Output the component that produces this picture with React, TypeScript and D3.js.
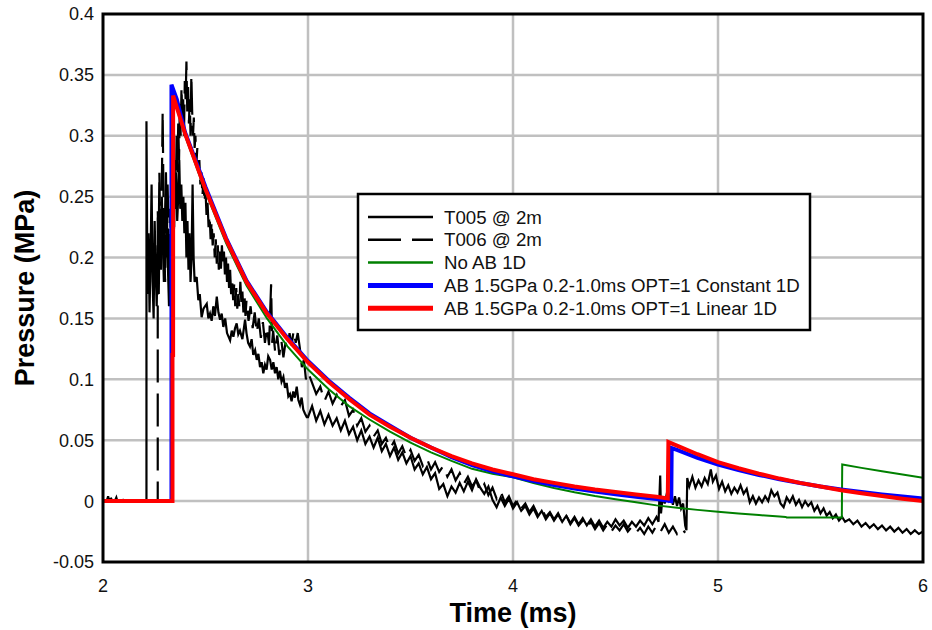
import React from 'react';
import * as d3 from 'd3';

type P = [number, number];

const xTicks = [2, 3, 4, 5, 6];
const yTicks = [-0.05, 0, 0.05, 0.1, 0.15, 0.2, 0.25, 0.3, 0.35, 0.4];
const yTickLabels = ['-0.05', '0', '0.05', '0.1', '0.15', '0.2', '0.25', '0.3', '0.35', '0.4'];
const xTitle = 'Time (ms)';
const yTitle = 'Pressure (MPa)';
const legendLabels = [
  'T005 @ 2m',
  'T006 @ 2m',
  'No AB 1D',
  'AB 1.5GPa 0.2-1.0ms OPT=1 Constant 1D',
  'AB 1.5GPa 0.2-1.0ms OPT=1 Linear 1D',
];

// Measured trace T005 (solid)
const t005: P[] = [
  [2.0, 0], [2.02, 0.001], [2.025, 0.004], [2.03, 0], [2.06, 0.001], [2.065, 0.003], [2.07, 0], [2.15, 0], [2.212, 0],
  [2.212, 0.312], [2.217, 0.17], [2.222, 0.22], [2.227, 0.155], [2.232, 0.2], [2.237, 0.26], [2.242, 0.18], [2.247, 0.15],
  [2.252, 0.23], [2.257, 0.19], [2.262, 0.16], [2.267, 0.21], [2.272, 0.17], [2.277, 0.24], [2.282, 0.2], [2.287, 0.25],
  [2.292, 0.21], [2.297, 0.18], [2.302, 0.23], [2.307, 0.27], [2.312, 0.22], [2.317, 0.19], [2.322, 0.16], [2.327, 0.21],
  [2.332, 0.18], [2.337, 0.23], [2.342, 0.2], [2.347, 0.26], [2.352, 0.24], [2.357, 0.27], [2.362, 0.23], [2.367, 0.25],
  [2.372, 0.28], [2.377, 0.24], [2.382, 0.26], [2.387, 0.23], [2.392, 0.25], [2.397, 0.22], [2.402, 0.245], [2.407, 0.2],
  [2.412, 0.23], [2.417, 0.19], [2.422, 0.22], [2.427, 0.18], [2.432, 0.2], [2.437, 0.26], [2.442, 0.2], [2.447, 0.18],
  [2.457, 0.184], [2.465, 0.165], [2.472, 0.17], [2.481, 0.151], [2.49, 0.158], [2.506, 0.162], [2.514, 0.15],
  [2.522, 0.154], [2.53, 0.148], [2.538, 0.16], [2.546, 0.152], [2.555, 0.168], [2.563, 0.155], [2.571, 0.149],
  [2.579, 0.154], [2.587, 0.143], [2.596, 0.15], [2.605, 0.138], [2.62, 0.132], [2.628, 0.14], [2.636, 0.135],
  [2.644, 0.142], [2.652, 0.146], [2.66, 0.137], [2.668, 0.14], [2.68, 0.133], [2.693, 0.149], [2.7, 0.138],
  [2.708, 0.13], [2.717, 0.127], [2.725, 0.133], [2.733, 0.12], [2.742, 0.124], [2.75, 0.116], [2.758, 0.121],
  [2.766, 0.11], [2.774, 0.114], [2.782, 0.105], [2.79, 0.112], [2.798, 0.108], [2.806, 0.119], [2.815, 0.116],
  [2.823, 0.108], [2.831, 0.114], [2.839, 0.105], [2.847, 0.11], [2.855, 0.1], [2.863, 0.107], [2.871, 0.098],
  [2.88, 0.102], [2.888, 0.093], [2.896, 0.097], [2.904, 0.086], [2.912, 0.088], [2.92, 0.082], [2.928, 0.09],
  [2.936, 0.085], [2.945, 0.094], [2.953, 0.083], [2.961, 0.079], [2.969, 0.085], [2.977, 0.075], [2.985, 0.072],
  [2.994, 0.069],
  [3.0, 0.069], [3.02, 0.078], [3.04, 0.066], [3.06, 0.074], [3.08, 0.063], [3.1, 0.071], [3.12, 0.062], [3.14, 0.068],
  [3.16, 0.058], [3.18, 0.066], [3.2, 0.055], [3.22, 0.061], [3.24, 0.05], [3.26, 0.058], [3.28, 0.047], [3.3, 0.053],
  [3.32, 0.044], [3.34, 0.052], [3.36, 0.041], [3.38, 0.047], [3.4, 0.037], [3.42, 0.044], [3.44, 0.034], [3.46, 0.04],
  [3.48, 0.031], [3.5, 0.037], [3.52, 0.026], [3.54, 0.031], [3.56, 0.022], [3.58, 0.028], [3.6, 0.018], [3.62, 0.023],
  [3.64, 0.01], [3.66, 0.014], [3.68, 0.004], [3.7, 0.012], [3.72, 0.007], [3.74, 0.015], [3.76, 0.008], [3.78, 0.016],
  [3.8, 0.009], [3.82, 0.018], [3.84, 0.011], [3.86, 0.006], [3.88, 0.012], [3.9, 0.001], [3.92, -0.005], [3.94, 0.003],
  [3.96, -0.004], [3.98, 0.002], [4.0, -0.006], [4.02, -0.001], [4.04, -0.008], [4.06, -0.004], [4.08, -0.011],
  [4.1, -0.006], [4.12, -0.013], [4.14, -0.008], [4.16, -0.015], [4.18, -0.01], [4.2, -0.016], [4.22, -0.011],
  [4.24, -0.017], [4.26, -0.012], [4.28, -0.018], [4.3, -0.013], [4.32, -0.019], [4.34, -0.014], [4.36, -0.02],
  [4.38, -0.015], [4.4, -0.021], [4.42, -0.016], [4.44, -0.022], [4.46, -0.017], [4.48, -0.021], [4.5, -0.015],
  [4.52, -0.02], [4.54, -0.016], [4.56, -0.022], [4.58, -0.017], [4.6, -0.021], [4.62, -0.016], [4.64, -0.02],
  [4.66, -0.014], [4.68, -0.019], [4.7, -0.013], [4.71, -0.017], [4.718, 0.021], [4.722, -0.01], [4.73, 0.004],
  [4.74, -0.002], [4.75, 0.006], [4.76, 0.001], [4.77, 0.007], [4.78, -0.003], [4.79, 0.004], [4.8, -0.004],
  [4.81, 0.003], [4.82, -0.006], [4.83, -0.002], [4.84, -0.02], [4.846, -0.024], [4.85, 0.019], [4.86, 0.012],
  [4.875, 0.02], [4.89, 0.011], [4.905, 0.017], [4.92, 0.012], [4.935, 0.019], [4.95, 0.014], [4.965, 0.026],
  [4.975, 0.016], [4.99, 0.021], [5.005, 0.01], [5.02, 0.016], [5.035, 0.008], [5.05, 0.013], [5.065, 0.006],
  [5.08, 0.011], [5.095, 0.007], [5.11, 0.013], [5.125, 0.006], [5.14, 0.01], [5.155, -0.001], [5.17, 0.004],
  [5.185, -0.002], [5.2, 0.003], [5.215, -0.001], [5.23, 0.004], [5.245, 0.0], [5.26, 0.009], [5.275, 0.004],
  [5.29, 0.007], [5.305, -0.002], [5.32, -0.005], [5.335, 0.003], [5.35, -0.001], [5.365, 0.004], [5.38, -0.003],
  [5.395, 0.001], [5.41, -0.005], [5.425, 0.0], [5.44, -0.004], [5.455, -0.001], [5.47, -0.008], [5.485, -0.004],
  [5.5, -0.01], [5.515, -0.006], [5.53, -0.012], [5.545, -0.009], [5.56, -0.014], [5.575, -0.011], [5.59, -0.016],
  [5.605, -0.013], [5.62, -0.017], [5.64, -0.015], [5.66, -0.019], [5.68, -0.016], [5.7, -0.021], [5.72, -0.018],
  [5.74, -0.022], [5.76, -0.019], [5.78, -0.023], [5.8, -0.02], [5.82, -0.024], [5.84, -0.021], [5.86, -0.025],
  [5.88, -0.022], [5.9, -0.026], [5.92, -0.023], [5.94, -0.027], [5.96, -0.024], [5.98, -0.027], [6.0, -0.025],
];

// Measured trace T006 (dashed)
const t006: P[] = [
  [2.0, 0], [2.04, 0.002], [2.045, 0], [2.1, 0.001], [2.105, 0], [2.267, 0],
  [2.267, 0.24], [2.271, 0.2], [2.275, 0.27], [2.279, 0.22], [2.283, 0.19], [2.287, 0.26], [2.291, 0.32], [2.295, 0.25],
  [2.299, 0.21], [2.303, 0.18], [2.307, 0.22], [2.311, 0.2], [2.315, 0.26], [2.319, 0.23], [2.323, 0.19], [2.327, 0.24],
  [2.331, 0.21], [2.335, 0.17], [2.339, 0.2], [2.343, 0.26], [2.347, 0.22], [2.351, 0.28], [2.355, 0.25], [2.359, 0.3],
  [2.363, 0.27], [2.367, 0.31], [2.371, 0.28], [2.375, 0.33], [2.379, 0.3], [2.383, 0.34], [2.387, 0.31], [2.391, 0.33],
  [2.395, 0.3], [2.399, 0.345], [2.403, 0.33], [2.407, 0.361], [2.411, 0.32], [2.415, 0.34], [2.419, 0.31], [2.423, 0.33],
  [2.427, 0.3], [2.431, 0.35], [2.435, 0.32], [2.439, 0.3], [2.443, 0.315], [2.447, 0.29], [2.451, 0.3], [2.455, 0.275],
  [2.46, 0.29], [2.465, 0.27], [2.47, 0.28], [2.475, 0.26], [2.48, 0.27], [2.485, 0.25], [2.49, 0.265], [2.495, 0.245],
  [2.5, 0.255], [2.505, 0.235], [2.51, 0.245], [2.515, 0.225], [2.52, 0.235], [2.525, 0.215], [2.53, 0.23], [2.535, 0.21],
  [2.54, 0.22], [2.545, 0.2], [2.55, 0.215], [2.555, 0.195], [2.56, 0.21], [2.565, 0.19], [2.57, 0.205], [2.575, 0.19],
  [2.58, 0.21], [2.585, 0.195], [2.59, 0.205], [2.595, 0.185], [2.6, 0.2], [2.605, 0.18], [2.61, 0.195], [2.615, 0.175],
  [2.62, 0.19], [2.625, 0.17], [2.63, 0.18], [2.635, 0.165], [2.64, 0.178], [2.645, 0.16], [2.65, 0.175], [2.655, 0.158],
  [2.66, 0.17], [2.665, 0.16], [2.67, 0.18], [2.675, 0.163], [2.68, 0.172], [2.685, 0.155], [2.69, 0.17], [2.695, 0.152],
  [2.7, 0.165], [2.71, 0.148], [2.72, 0.16], [2.73, 0.142], [2.74, 0.155], [2.75, 0.138], [2.76, 0.15], [2.77, 0.134],
  [2.78, 0.147], [2.79, 0.13], [2.8, 0.143], [2.81, 0.128], [2.82, 0.178], [2.825, 0.13], [2.83, 0.14], [2.84, 0.122],
  [2.85, 0.136], [2.86, 0.12], [2.87, 0.132], [2.88, 0.118], [2.89, 0.13], [2.9, 0.125], [2.91, 0.138], [2.92, 0.128],
  [2.93, 0.14], [2.94, 0.13], [2.95, 0.138], [2.96, 0.126], [2.97, 0.11], [2.98, 0.116], [2.99, 0.1], [3.0, 0.106],
  [3.02, 0.097], [3.04, 0.088], [3.06, 0.094], [3.08, 0.082], [3.1, 0.09], [3.12, 0.08], [3.14, 0.087], [3.16, 0.078],
  [3.18, 0.083], [3.2, 0.07], [3.22, 0.075], [3.24, 0.062], [3.26, 0.068], [3.28, 0.057], [3.3, 0.062], [3.32, 0.053],
  [3.34, 0.058], [3.36, 0.047], [3.38, 0.052], [3.4, 0.043], [3.42, 0.049], [3.44, 0.039], [3.46, 0.045], [3.48, 0.036],
  [3.5, 0.042], [3.52, 0.033], [3.54, 0.038], [3.56, 0.029], [3.58, 0.035], [3.6, 0.026], [3.62, 0.032], [3.64, 0.024],
  [3.66, 0.029], [3.68, 0.02], [3.7, 0.026], [3.72, 0.017], [3.74, 0.023], [3.76, 0.014], [3.78, 0.02], [3.8, 0.012],
  [3.82, 0.017], [3.84, 0.008], [3.86, 0.014], [3.88, 0.005], [3.9, 0.011], [3.92, 0.002], [3.94, 0.008], [3.96, -0.001],
  [3.98, 0.004], [4.0, -0.004], [4.02, 0.001], [4.04, -0.006], [4.06, -0.002], [4.08, -0.009], [4.1, -0.004],
  [4.12, -0.011], [4.14, -0.006], [4.16, -0.013], [4.18, -0.009], [4.2, -0.015], [4.22, -0.01], [4.24, -0.017],
  [4.26, -0.012], [4.28, -0.019], [4.3, -0.014], [4.32, -0.02], [4.34, -0.016], [4.36, -0.022], [4.38, -0.017],
  [4.4, -0.023], [4.42, -0.018], [4.44, -0.024], [4.46, -0.019], [4.48, -0.025], [4.5, -0.02], [4.52, -0.024],
  [4.54, -0.019], [4.56, -0.025], [4.58, -0.021], [4.6, -0.026], [4.62, -0.022], [4.64, -0.027], [4.66, -0.021],
  [4.68, -0.026], [4.7, -0.02], [4.72, -0.025], [4.74, -0.019], [4.76, -0.026], [4.78, -0.021], [4.8, -0.027],
  [4.82, -0.022], [4.84, -0.026],
];

// Model: No AB 1D (green)
const noAB: P[] = [
  [2.0, 0], [2.341, 0], [2.341, 0.333], [2.4, 0.3], [2.5, 0.254], [2.6, 0.212], [2.7, 0.177], [2.8, 0.15], [2.9, 0.127],
  [3.0, 0.108], [3.1, 0.092], [3.2, 0.078], [3.3, 0.067], [3.4, 0.057], [3.5, 0.048], [3.6, 0.04], [3.7, 0.033],
  [3.8, 0.0265], [3.9, 0.0225], [4.0, 0.0195], [4.1, 0.0148], [4.2, 0.0108], [4.3, 0.0073], [4.4, 0.0042],
  [4.5, 0.0015], [4.6, -0.0009], [4.7, -0.0035], [4.8, -0.0055], [4.9, -0.0072], [5.0, -0.0087], [5.1, -0.0101],
  [5.2, -0.0114], [5.3, -0.0127], [5.33, -0.013], [5.335, -0.0134], [5.604, -0.0134], [5.606, 0.0301], [5.7, 0.0273],
  [5.8, 0.0246], [5.9, 0.0219], [6.0, 0.0192],
];

// Model: AB Constant 1D (blue)
const abConstant: P[] = [
  [2.0, 0], [2.334, 0], [2.334, 0.342], [2.36, 0.33], [2.4, 0.303], [2.5, 0.258], [2.6, 0.216], [2.7, 0.181],
  [2.8, 0.155], [2.9, 0.134], [3.0, 0.115], [3.1, 0.099], [3.2, 0.085], [3.3, 0.072], [3.4, 0.062], [3.5, 0.052],
  [3.6, 0.044], [3.7, 0.036], [3.8, 0.0295], [3.9, 0.0245], [4.0, 0.0203], [4.1, 0.0165], [4.2, 0.0132], [4.3, 0.0104],
  [4.4, 0.0078], [4.5, 0.0056], [4.6, 0.0035], [4.7, 0.0017], [4.772, 0.0], [4.774, 0.0435], [4.8, 0.042],
  [4.9, 0.0355], [5.0, 0.03], [5.1, 0.0255], [5.2, 0.0215], [5.3, 0.018], [5.4, 0.0148], [5.5, 0.012], [5.6, 0.0096],
  [5.7, 0.0074], [5.8, 0.0054], [5.9, 0.0037], [6.0, 0.0022],
];

// Model: AB Linear 1D (red)
const abLinear: P[] = [
  [2.0, 0], [2.339, 0], [2.339, 0.12], [2.342, 0.12], [2.342, 0.333], [2.4, 0.302], [2.5, 0.256], [2.6, 0.215],
  [2.7, 0.18], [2.8, 0.154], [2.9, 0.133], [3.0, 0.114], [3.1, 0.098], [3.2, 0.084], [3.3, 0.071], [3.4, 0.061],
  [3.5, 0.052], [3.6, 0.044], [3.7, 0.037], [3.8, 0.031], [3.9, 0.026], [4.0, 0.022], [4.1, 0.018], [4.2, 0.015],
  [4.3, 0.012], [4.4, 0.0095], [4.5, 0.0075], [4.6, 0.0055], [4.7, 0.0035], [4.755, 0.0022], [4.758, 0.0485],
  [4.8, 0.0455], [4.9, 0.0385], [5.0, 0.032], [5.1, 0.027], [5.2, 0.0225], [5.3, 0.0185], [5.4, 0.015], [5.5, 0.012],
  [5.6, 0.009], [5.7, 0.0065], [5.8, 0.0042], [5.9, 0.002], [6.0, 0.0],
];

const W = 932;
const H = 630;
const PL = 103, PR = 923, PT = 14, PB = 562;

export default function App() {
  const x = d3.scaleLinear().domain([2, 6]).range([PL, PR]);
  const y = d3.scaleLinear().domain([-0.05, 0.4]).range([PB, PT]);
  const line = d3.line<P>().x((d) => x(d[0])).y((d) => y(d[1]));
  const font = 'Arial, "Liberation Sans", sans-serif';

  const series = [
    { data: t005, color: '#000', width: 2.2, dash: undefined as string | undefined },
    { data: t006, color: '#000', width: 2.2, dash: '33,11' },
    { data: noAB, color: '#008000', width: 2, dash: undefined },
    { data: abConstant, color: '#0000ff', width: 4, dash: undefined },
    { data: abLinear, color: '#ff0000', width: 4, dash: undefined },
  ];
  const legendY0 = 217;
  const legendStep = 22.8;

  return (
    <svg width={W} height={H} style={{ position: 'fixed', left: 0, top: 0, background: '#fff' }}>
      <rect x={0} y={0} width={W} height={H} fill="#fff" />
      <defs>
        <clipPath id="plotclip">
          <rect x={PL} y={PT} width={PR - PL} height={PB - PT} />
        </clipPath>
      </defs>
      {/* grid */}
      <g stroke="#c0c0c0" strokeWidth={2.5}>
        {xTicks.slice(1, -1).map((t) => (
          <line key={'gx' + t} x1={x(t)} x2={x(t)} y1={PT} y2={PB} />
        ))}
        {yTicks.slice(1, -1).map((t) => (
          <line key={'gy' + t} x1={PL} x2={PR} y1={y(t)} y2={y(t)} />
        ))}
      </g>
      {/* data */}
      <g clipPath="url(#plotclip)" fill="none" strokeLinejoin="miter" strokeLinecap="butt">
        {series.map((s, i) => (
          <path key={i} d={line(s.data) || ''} stroke={s.color} strokeWidth={s.width} strokeDasharray={s.dash} />
        ))}
      </g>
      {/* frame */}
      <rect x={PL} y={PT} width={PR - PL} height={PB - PT} fill="none" stroke="#000" strokeWidth={3} />
      {/* y tick labels */}
      {yTicks.map((t, i) => (
        <text key={'yl' + t} x={94} y={y(t)} dy="0.36em" textAnchor="end" fontFamily={font} fontSize={18} fill="#111">
          {yTickLabels[i]}
        </text>
      ))}
      {/* x tick labels */}
      {xTicks.map((t) => (
        <text key={'xl' + t} x={x(t)} y={592} textAnchor="middle" fontFamily={font} fontSize={18} fill="#111">
          {String(t)}
        </text>
      ))}
      {/* axis titles */}
      <text x={(PL + PR) / 2} y={622} textAnchor="middle" fontFamily={font} fontSize={27} fontWeight="bold" fill="#000">
        {xTitle}
      </text>
      <text
        transform={`translate(34,${(PT + PB) / 2}) rotate(-90)`}
        textAnchor="middle"
        fontFamily={font}
        fontSize={27}
        fontWeight="bold"
        fill="#000"
      >
        {yTitle}
      </text>
      {/* legend */}
      <rect x={358} y={194} width={452} height={136} fill="#fff" stroke="#000" strokeWidth={2.5} />
      {series.map((s, i) => (
        <g key={'lg' + i}>
          <line
            x1={368}
            x2={433}
            y1={legendY0 + i * legendStep}
            y2={legendY0 + i * legendStep}
            stroke={s.color}
            strokeWidth={s.width === 4 ? 5 : 2.5}
            strokeDasharray={s.dash}
          />
          <text x={444} y={legendY0 + i * legendStep + 6.5} fontFamily={font} fontSize={18.7} fill="#111">
            {legendLabels[i]}
          </text>
        </g>
      ))}
    </svg>
  );
}
